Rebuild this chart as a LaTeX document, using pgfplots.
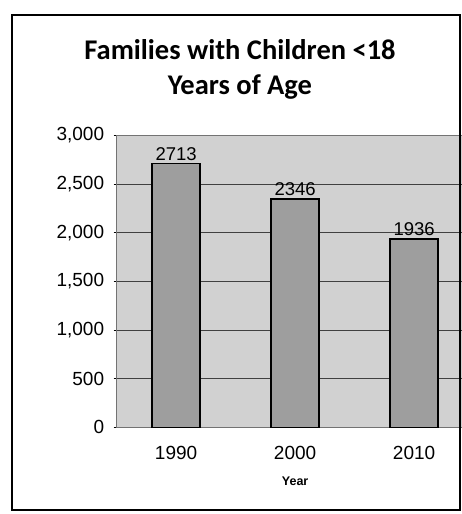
\documentclass[border=0pt]{standalone}
\usepackage{pgfplots}
\pgfplotsset{compat=1.18}
\usepackage{fontspec}
\setmainfont{Liberation Sans}
\newfontfamily\titlefont{Carlito}
\definecolor{plotbg}{gray}{0.82}
\definecolor{barfill}{gray}{0.62}
\begin{document}
\begin{tikzpicture}[x=1pt,y=1pt]
\useasboundingbox (0,0) rectangle (462,514);
% title
\node[font=\titlefont\bfseries\fontsize{28.5}{35}\selectfont, align=center] at (240,445)
  {Families with Children <18\\Years of Age};
\begin{axis}[
  at={(98,89)}, anchor=south west,
  scale only axis, width=357pt, height=292pt,
  xmin=-0.5, xmax=2.5, ymin=0, ymax=3000,
  xtick=data, xticklabels={1990,2000,2010},
  ytick={0,500,...,3000},
  ymajorgrids, grid style={black!75, line width=0.9pt},
  axis background/.style={fill=plotbg},
  axis line style={black!55, line width=0.8pt},
  major tick length=3pt,
  xtick style={draw=none},
  ytick style={black, line width=0.8pt},
  tick align=outside,
  /pgf/number format/assume math mode=true,
  /pgf/number format/.cd, 1000 sep={,},
  /pgfplots/.cd,
  ticklabel style={font=\fontsize{19}{21}\selectfont},
  yticklabel style={xshift=-6pt},
  xticklabel style={yshift=-12pt},
  xlabel={Year},
  xlabel style={font=\bfseries\fontsize{12.5}{14}\selectfont, at={(axis description cs:0.5,0)}, anchor=center, yshift=-54pt},
  nodes near coords={\pgfmathprintnumber[1000 sep={}]{\pgfplotspointmeta}},
  nodes near coords style={font=\fontsize{18.5}{20}\selectfont, anchor=south, yshift=-1pt},
]
\addplot[ybar, bar width=48pt, fill=barfill, draw=black, line width=1.4pt]
  coordinates {(0,2713) (1,2346) (2,1936)};
\end{axis}
% chart frame
\draw[line width=1.6pt] (12,4) rectangle (460,499);
\end{tikzpicture}
\end{document}
